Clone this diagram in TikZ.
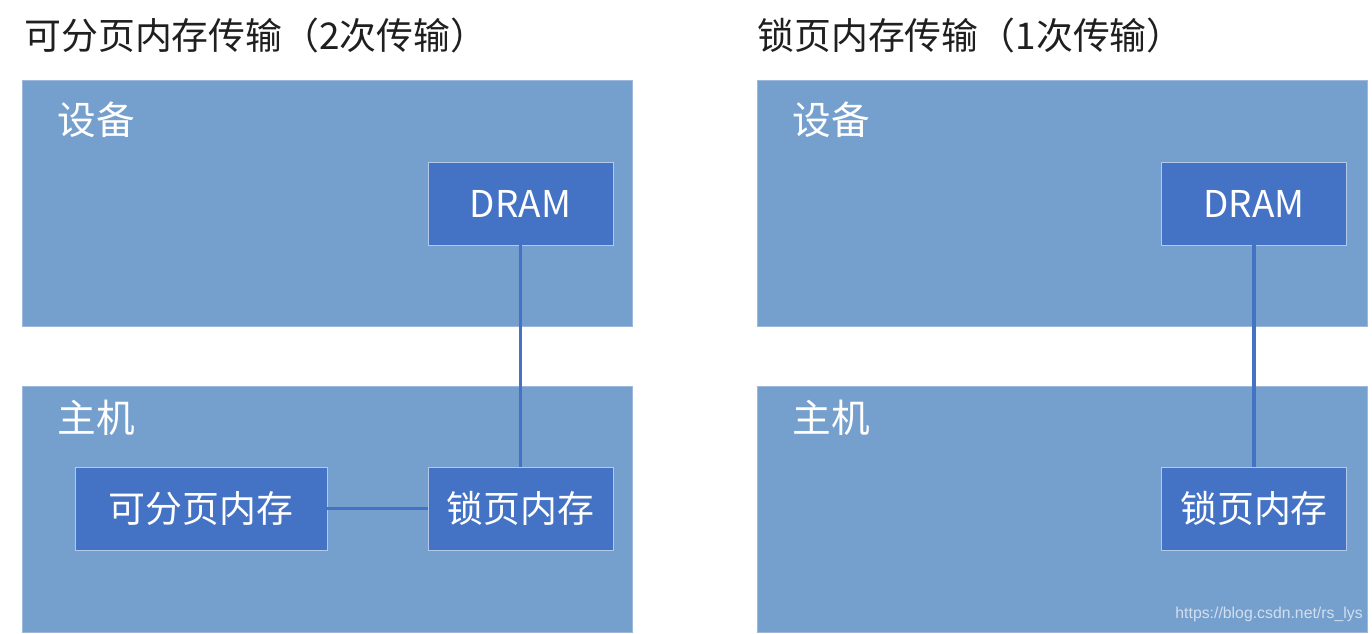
\documentclass[tikz,border=0pt]{standalone}
\usepackage{fontspec}
\usepackage{xcolor}
\usepackage{tikz}
\usetikzlibrary{positioning}
\newfontfamily\cjk{Noto Sans CJK SC}
\newfontfamily\webfont{Liberation Sans}
\definecolor{panelblue}{HTML}{759FCC}
\definecolor{paneledge}{HTML}{9CB8DC}
\definecolor{boxblue}{HTML}{4472C4}
\definecolor{boxedge}{HTML}{B4C8EA}
\definecolor{marktext}{HTML}{D2DFEE}

\begin{document}
\begin{tikzpicture}[
    x=0.02cm, y=-0.02cm,
    panel/.style={fill=panelblue, draw=paneledge, line width=0.5pt, anchor=north west,
                  minimum width=12.2cm, minimum height=4.92cm, inner sep=0pt},
    mem/.style={fill=boxblue, draw=boxedge, line width=0.5pt, text=white,
                minimum width=#1, minimum height=1.66cm, inner sep=0pt,
                font=\cjk\fontsize{21}{25}\selectfont},
    mem/.default=3.7cm,
    tag/.style={anchor=west, text=white, inner sep=0pt, font=\cjk\fontsize{22}{26}\selectfont},
    heading/.style={anchor=west, text=black!88, inner sep=0pt, font=\cjk\fontsize{21}{25}\selectfont},
    link/.style={draw=boxblue, line width=2.2pt},
]
    \useasboundingbox (0,0) rectangle (1372,634);

    % left: pageable memory, two copies
    \node[heading] (title1) at (24,35) {可分页内存传输（2次传输）};
    \node[panel] (dev1) at (22,80) {};
    \node[panel] (host1) at (22,386) {};
    \node[tag] (devtag1) at (57,120) {设备};
    \node[tag] (hosttag1) at (57,418) {主机};
    \node[mem] (dram1) at (520.5,203.5) {DRAM};
    \node[mem] (pin1) at (520.5,508.5) {锁页内存};
    \node[mem=5.04cm] (page1) at (201,508.5) {可分页内存};
    \draw[link] (dram1) -- (pin1);
    \draw[link] (page1) -- (pin1);

    % right: page-locked memory, one copy
    \node[heading] (title2) at (757,35) {锁页内存传输（1次传输）};
    \node[panel] (dev2) at (757,80) {};
    \node[panel] (host2) at (757,386) {};
    \node[tag] (devtag2) at (792,120) {设备};
    \node[tag] (hosttag2) at (792,418) {主机};
    \node[mem] (dram2) at (1254,203.5) {DRAM};
    \node[mem] (pin2) at (1254,508.5) {锁页内存};
    \draw[link] (dram2) -- (pin2);

    \node[anchor=east, inner sep=0pt, text=marktext, font=\webfont\fontsize{9}{11}\selectfont]
        (mark) at (1363,614) {https://blog.csdn.net/rs\_lys};
\end{tikzpicture}
\end{document}
